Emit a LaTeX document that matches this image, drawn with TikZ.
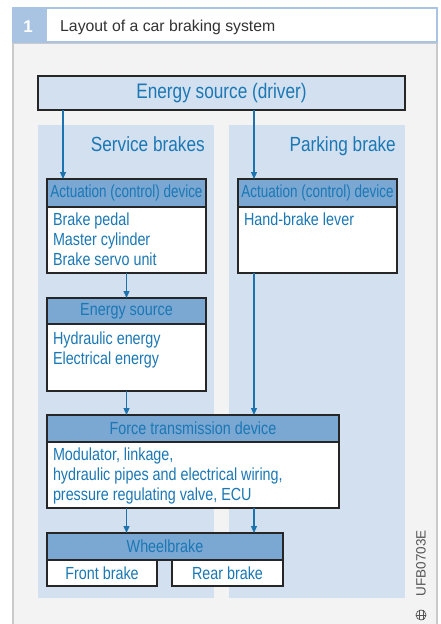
\documentclass[tikz,border=0pt]{standalone}
\usepackage{fontspec}
\setmainfont{Liberation Sans}
\newfontfamily\condfont[FakeStretch=0.82]{Liberation Sans}
\newfontfamily\actfont[FakeStretch=0.77]{Liberation Sans}
\newfontfamily\labfont[FakeStretch=0.84]{Liberation Sans}
\usetikzlibrary{arrows.meta}
\definecolor{panelgray}{HTML}{F3F3F3}
\definecolor{framegray}{HTML}{CACACA}
\definecolor{colblue}{HTML}{D3E0F0}
\definecolor{headblue}{HTML}{7BA7D3}
\definecolor{tagblue}{HTML}{A8C4E2}
\definecolor{textblue}{HTML}{1B78B4}
\definecolor{arrowblue}{HTML}{1D73AE}
\definecolor{titlegray}{HTML}{333333}
\definecolor{creditgray}{HTML}{555555}
\begin{document}
\begin{tikzpicture}[x=1pt,y=-1pt,
  box/.style={draw=black!85, line width=1.1pt, inner sep=0pt, outer sep=0pt, anchor=north west},
  hdr/.style={box, fill=headblue, text=textblue, font=\condfont\fontsize{17.5}{20}\selectfont},
  acthdr/.style={hdr, font=\actfont\fontsize{17.5}{20}\selectfont},
  bodybox/.style={box, fill=white},
  bodytxt/.style={anchor=north west, inner sep=0pt, outer sep=0pt, align=left, text=textblue, font=\condfont\fontsize{17.5}{20}\selectfont},
  collabel/.style={anchor=base east, inner sep=0pt, text=textblue, font=\labfont\fontsize{20.5}{24}\selectfont},
  arr/.style={draw=arrowblue, line width=1.1pt, -{Triangle[length=7pt,width=6pt]}}
]
\useasboundingbox (0,0) rectangle (440,624);
% panel
\fill[white] (0,0) rectangle (440,624);
\path[fill=panelgray, draw=framegray, line width=2pt] (13,43) rectangle (437,630);
% header
\fill[tagblue] (12,7) rectangle (438,43);
\node[fill=white, inner sep=0pt, minimum width=389pt, minimum height=32pt, anchor=north west] (titlebox) at (47,9) {};
\node[anchor=base west, inner sep=0pt, text=titlegray, font=\fontsize{15.8}{18}\selectfont] (title) at (60,31.5) {Layout of a car braking system};
\node[anchor=base, text=white, font=\bfseries\fontsize{17}{18}\selectfont, inner sep=0pt] (num) at (28,32.5) {1};
% columns
\fill[colblue] (38,125) rectangle (214,598);
\fill[colblue] (229,125) rectangle (405,598);
\node[collabel] (svc) at (205,151) {Service brakes};
\node[collabel] (prk) at (396,151) {Parking brake};
% driver
\node[box, fill=colblue, minimum width=367pt, minimum height=34pt, text=textblue,
  font=\condfont\fontsize{21}{24}\selectfont] (drv) at (38,76) {Energy source (driver)};
% actuation service
\node[acthdr, minimum width=159pt, minimum height=28pt] (act1h) at (47,179) {Actuation (control) device};
\node[bodybox, minimum width=159pt, minimum height=66pt] (act1b) at (47,207) {};
\node[bodytxt] (act1t) at (53,212.5) {Brake pedal\\Master cylinder\\Brake servo unit};
% actuation parking
\node[acthdr, minimum width=159pt, minimum height=28pt] (act2h) at (238,179) {Actuation (control) device};
\node[bodybox, minimum width=159pt, minimum height=66pt] (act2b) at (238,207) {};
\node[bodytxt] (act2t) at (244,212.5) {Hand-brake lever};
% energy source
\node[hdr, minimum width=159pt, minimum height=26pt] (enh) at (47,298) {Energy source};
\node[bodybox, minimum width=159pt, minimum height=67pt] (enb) at (47,324) {};
\node[bodytxt] (ent) at (53,331.5) {Hydraulic energy\\Electrical energy};
% force transmission
\node[hdr, minimum width=292pt, minimum height=27pt] (fth) at (47,415) {Force transmission device};
\node[bodybox, minimum width=292pt, minimum height=66pt] (ftb) at (47,442) {};
\node[bodytxt] (ftt) at (53,447.5) {Modulator, linkage,\\hydraulic pipes and electrical wiring,\\pressure regulating valve, ECU};
% wheelbrake
\node[hdr, minimum width=236pt, minimum height=27pt] (wbh) at (47,533) {Wheelbrake};
\node[bodybox, text=textblue, font=\condfont\fontsize{17.5}{20}\selectfont, minimum width=110pt, minimum height=26pt] (front) at (47,560) {Front brake};
\node[bodybox, text=textblue, font=\condfont\fontsize{17.5}{20}\selectfont, minimum width=111pt, minimum height=26pt] (rear) at (172,560) {Rear brake};
% connectors
\coordinate (a1) at (63,179);
\coordinate (a2) at (254,179);
\draw[arr] (drv.south -| a1) -- (a1);
\draw[arr] (drv.south -| a2) -- (a2);
\draw[arr] (act1b.south -| enh.north) -- (enh.north);
\draw[arr] (enb.south) -- (enb.south |- fth.north);
\draw[arr] (act2b.south -| a2) -- (fth.north -| a2);
\draw[arr] (ftb.south -| enb.south) -- (wbh.north -| enb.south);
\draw[arr] (ftb.south -| a2) -- (wbh.north -| a2);
% credit
\node[rotate=90, inner sep=0pt, text=creditgray, font=\fontsize{13.5}{15}\selectfont] (credit) at (421,563) {UFB0703E};
\node[draw=creditgray, circle, line width=0.7pt, minimum size=10pt, inner sep=0pt] (logo) at (421,615) {};
\draw[creditgray, line width=0.6pt] ([xshift=-2pt]logo.north) -- ([xshift=-2pt]logo.south);
\draw[creditgray, line width=0.6pt] ([xshift=2pt]logo.north) -- ([xshift=2pt]logo.south);
\draw[creditgray, line width=0.6pt] (logo.west) -- (logo.east);
\end{tikzpicture}
\end{document}
